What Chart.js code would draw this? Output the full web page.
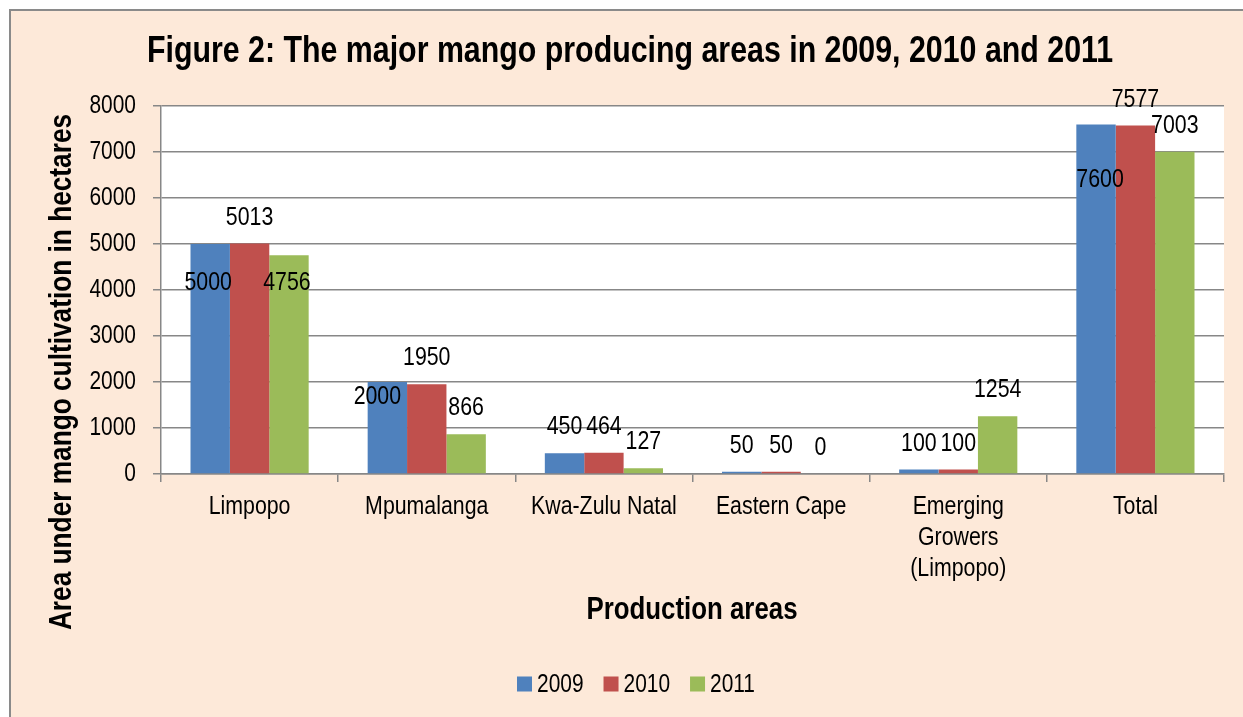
<!DOCTYPE html>
<html>
<head>
<meta charset="utf-8">
<script src="https://cdn.jsdelivr.net/npm/chart.js@4"></script>
<style>
  html, body { margin: 0; padding: 0; background: #fff; }
  #wrap { position: absolute; left: 0; top: 0; width: 1243px; height: 717px; }
</style>
</head>
<body>
<div id="wrap"><canvas id="chart" width="1243" height="717"></canvas></div>
<script>
  // values
  const categories = ['Limpopo', 'Mpumalanga', 'Kwa-Zulu Natal', 'Eastern Cape', ['Emerging', 'Growers', '(Limpopo)'], 'Total'];
  const years = ['2009', '2010', '2011'];
  const area2009 = [5000, 2000, 450, 50, 100, 7600];
  const area2010 = [5013, 1950, 464, 50, 100, 7577];
  const area2011 = [4756, 866, 127, 0, 1254, 7003];
  const yMin = 0;
  const yMax = 8000;
  const yStep = 1000;

  const chartTitle = 'Figure 2: The major mango producing areas in 2009, 2010 and 2011';
  const xTitle = 'Production areas';
  const yTitle = 'Area under mango cultivation in hectares';

  // no Arial Narrow here, so Liberation Sans is squeezed sideways
  const FACE = "'Liberation Sans', Arial, sans-serif";
  const SQUEEZE = 0.82;
  const colors = ['#4F81BD', '#C0504D', '#9BBB59'];
  const gridColor = '#878787';

  // a few labels were dragged away from the default "outside end" spot in the original
  const labelShift = [
    [[-2, 65], [-10, 41], null, null, null, [4, 81]],
    [null, null, null, null, null, null],
    [[-2, 54], null, null, null, null, null],
  ];

  const narrowText = (ctx, text, x, y, size, bold, align = 'center', angle = 0) => {
    ctx.save();
    ctx.translate(x, y);
    if (angle) ctx.rotate(angle);
    ctx.scale(SQUEEZE, 1);
    ctx.font = `${bold ? 'bold ' : ''}${size}px ${FACE}`;
    ctx.fillStyle = '#000';
    ctx.textAlign = align;
    ctx.textBaseline = 'middle';
    ctx.fillText(text, 0, 0);
    ctx.restore();
  };

  const narrowWidth = (ctx, text, size, bold) => {
    ctx.save();
    ctx.font = `${bold ? 'bold ' : ''}${size}px ${FACE}`;
    const w = ctx.measureText(text).width * SQUEEZE;
    ctx.restore();
    return w;
  };

  const backdrop = {
    id: 'backdrop',
    beforeDraw(chart) {
      const { ctx, width, height } = chart;
      ctx.save();
      ctx.fillStyle = '#ffffff';
      ctx.fillRect(0, 0, width, height);
      ctx.fillStyle = '#FDE9D9';
      ctx.fillRect(11, 11, width - 11, height - 11);
      ctx.fillStyle = '#8a8a8a';
      ctx.fillRect(9, 9, width - 9, 2);
      ctx.fillRect(9, 9, 2, height - 9);
      const a = chart.chartArea;
      ctx.fillStyle = '#ffffff';
      ctx.fillRect(a.left, a.top, a.right - a.left, a.bottom - a.top);
      ctx.restore();
    },
  };

  const texts = {
    id: 'texts',
    afterDraw(chart) {
      const { ctx, scales: { x, y } } = chart;

      narrowText(ctx, chartTitle, 630, 52, 37, true);
      narrowText(ctx, yTitle, 62, 372, 32, true, 'center', -Math.PI / 2);
      narrowText(ctx, xTitle, 692, 610, 31.5, true);

      y.ticks.forEach((t) => {
        narrowText(ctx, String(t.value), 136, y.getPixelForValue(t.value), 25.5, false, 'right');
      });

      categories.forEach((c, i) => {
        const lines = Array.isArray(c) ? c : [c];
        lines.forEach((line, k) => {
          narrowText(ctx, line, x.getPixelForValue(i), 507 + k * 31, 26, false);
        });
      });

      // legend: square, small gap, year
      const size = 25.5;
      const box = 15;
      const gap = 5;
      const spacing = 20;
      const widths = years.map((yr) => box + gap + narrowWidth(ctx, yr, size, false));
      const total = widths.reduce((s, w) => s + w, 0) + spacing * (years.length - 1);
      let cx = 636 - total / 2;
      years.forEach((yr, i) => {
        ctx.fillStyle = colors[i];
        ctx.fillRect(cx, 684 - box / 2, box, box);
        narrowText(ctx, yr, cx + box + gap, 685, size, false, 'left');
        cx += widths[i] + spacing;
      });
    },
  };

  const barLabels = {
    id: 'barLabels',
    afterDatasetsDraw(chart) {
      const { ctx } = chart;
      chart.data.datasets.forEach((ds, di) => {
        chart.getDatasetMeta(di).data.forEach((bar, i) => {
          const shift = labelShift[di][i] || [0, 0];
          narrowText(ctx, String(ds.data[i]), bar.x + shift[0], bar.y - 26 + shift[1], 26, false);
        });
      });
    },
  };

  new Chart(document.getElementById('chart'), {
    type: 'bar',
    data: {
      labels: categories,
      datasets: [area2009, area2010, area2011].map((values, i) => ({
        label: years[i],
        data: values,
        backgroundColor: colors[i],
        borderWidth: 0,
        categoryPercentage: 0.667,
        barPercentage: 1,
      })),
    },
    options: {
      responsive: false,
      animation: false,
      devicePixelRatio: 1,
      layout: { padding: { left: 11, right: 19, top: 106, bottom: 0 } },
      plugins: {
        title: { display: false },
        legend: { display: false },
        tooltip: { enabled: false },
      },
      scales: {
        x: {
          afterFit: (scale) => { scale.height = 243; },
          grid: {
            offset: true,
            drawOnChartArea: false,
            drawTicks: true,
            tickLength: 8,
            color: gridColor,
            lineWidth: 1.5,
          },
          border: { color: gridColor, width: 1.5 },
          ticks: { display: false },
        },
        y: {
          min: yMin,
          max: yMax,
          afterFit: (scale) => { scale.width = 150; },
          grid: { color: gridColor, lineWidth: 1.5, tickLength: 8 },
          border: { color: gridColor, width: 1.5 },
          ticks: { stepSize: yStep, display: false },
        },
      },
    },
    plugins: [backdrop, barLabels, texts],
  });
</script>
</body>
</html>
